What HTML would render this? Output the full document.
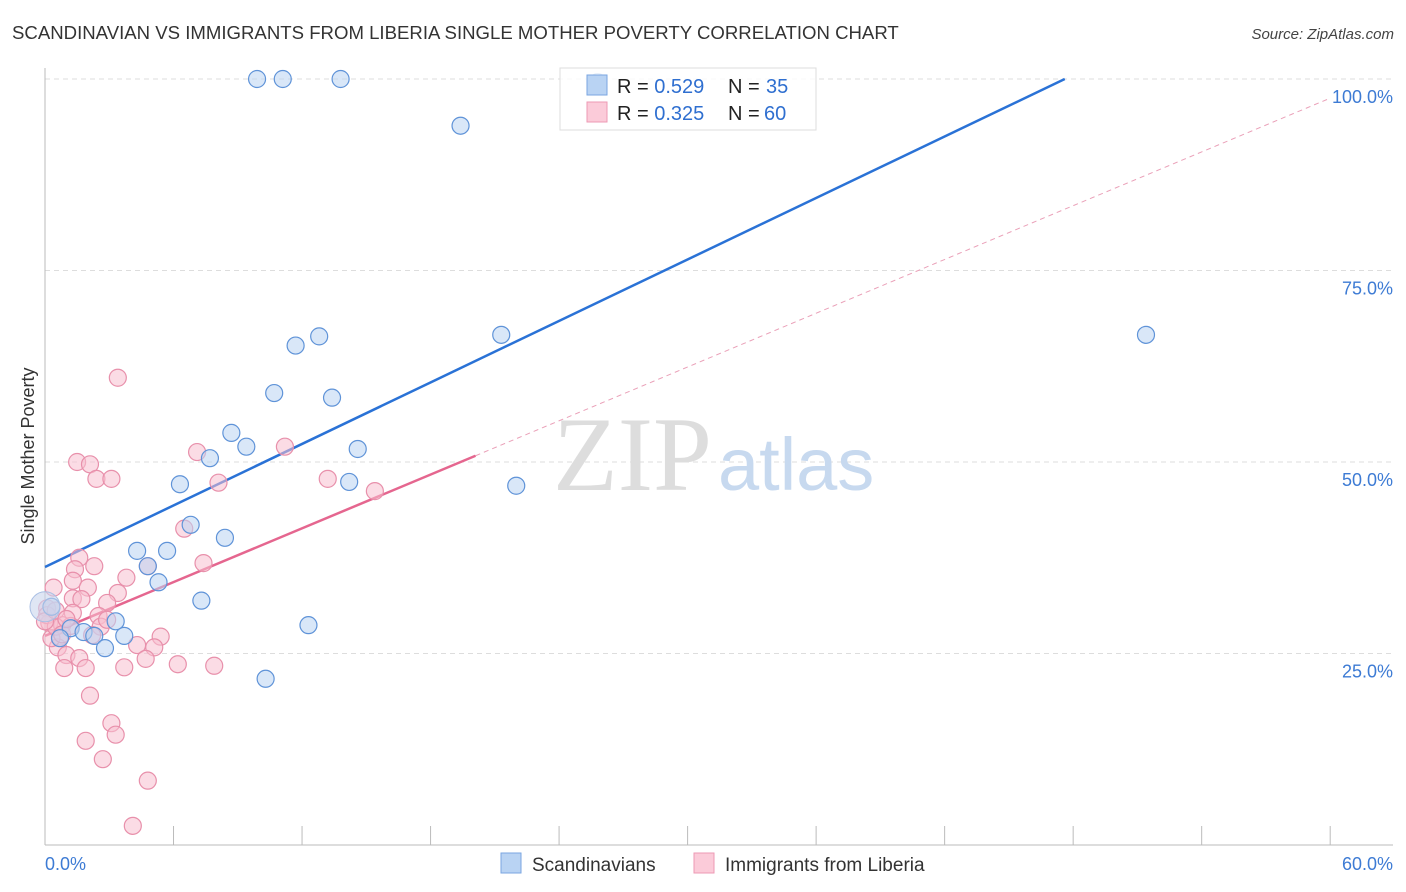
<!DOCTYPE html>
<html><head><meta charset="utf-8">
<style>
body{margin:0;background:#fff;font-family:"Liberation Sans",sans-serif;}
svg{display:block}
</style></head>
<body>
<svg id="chart" width="1406" height="892" xmlns="http://www.w3.org/2000/svg">
<text x="12" y="39" font-size="18.6" fill="#333">SCANDINAVIAN VS IMMIGRANTS FROM LIBERIA SINGLE MOTHER POVERTY CORRELATION CHART</text>
<text x="1394" y="39" font-size="15" fill="#444" font-style="italic" text-anchor="end">Source: ZipAtlas.com</text>
<g id="grid"></g>
<g>
<text x="553" y="490" font-size="106" font-family="Liberation Serif,serif" fill="#ddd">ZIP</text>
<text x="718" y="490" font-size="74" fill="#c7d9ef">atlas</text>
</g>
<g id="axes"></g>
<g id="lines"></g>
<g id="points"></g>
<text transform="translate(34,456) rotate(-90)" font-size="18" fill="#333" text-anchor="middle">Single Mother Poverty</text>
<g>
<rect x="560" y="68" width="256" height="62" fill="#fff" fill-opacity="0.85" stroke="#ddd"/>
<rect x="587" y="75" width="20" height="20" fill="#b9d3f3" stroke="#7aa6e0"/>
<rect x="587" y="102" width="20" height="20" fill="#fbcbd9" stroke="#ee9ab4"/>
<text x="617" y="93" font-size="20" fill="#222">R = <tspan fill="#2f6fd0">0.529</tspan></text>
<text x="728" y="93" font-size="20" fill="#222">N = <tspan fill="#2f6fd0" x="766">35</tspan></text>
<text x="617" y="120" font-size="20" fill="#222">R = <tspan fill="#2f6fd0">0.325</tspan></text>
<text x="728" y="120" font-size="20" fill="#222">N = <tspan fill="#2f6fd0" x="764">60</tspan></text>
</g>
<g>
<rect x="501" y="853" width="20" height="20" fill="#b9d3f3" stroke="#7aa6e0"/>
<text x="532" y="871" font-size="19" fill="#333">Scandinavians</text>
<rect x="694" y="853" width="20" height="20" fill="#fbcbd9" stroke="#ee9ab4"/>
<text x="725" y="871" font-size="19" fill="#333">Immigrants from Liberia</text>
</g>
</svg>
<script>
const yTicks=[25,50,75,100];
const yTickLabels=["25.0%","50.0%","75.0%","100.0%"];
const xTicks=[0,6,12,18,24,30,36,42,48,54,60];
const blueX=[9.9,11.1,13.8,25.8,19.4,11.7,12.8,21.3,51.4,10.7,13.4,8.7,9.4,14.6,7.7,6.3,14.2,22.0,6.8,8.4,4.3,5.7,4.8,5.3,7.3,3.3,1.2,1.8,3.7,2.3,2.8,10.3,12.3,0.3,0.7];
const blueY=[100,100,100,99.6,93.9,65.2,66.4,66.6,66.6,59.0,58.4,53.8,52.0,51.7,50.5,47.1,47.4,46.9,41.8,40.1,38.4,38.4,36.4,34.3,31.9,29.2,28.3,27.8,27.3,27.3,25.7,21.7,28.7,31.1,27.0];
const pinkX=[3.4,1.5,2.1,2.4,3.1,7.1,11.2,8.1,13.2,15.4,6.5,1.6,2.3,1.4,1.3,3.8,4.8,7.4,0.4,2.0,1.3,1.7,3.4,2.9,2.5,1.3,0.1,0.2,0.8,0.7,2.6,2.9,0.6,2.2,5.4,4.3,5.1,0.3,1.0,1.6,4.7,0.9,1.9,3.7,6.2,7.9,2.1,3.1,3.3,1.9,2.7,4.8,4.1,0.1,0.5,0.8,1.2,0.0,0.5,1.0];
const pinkY=[61.0,50.0,49.7,47.8,47.8,51.3,52.0,47.3,47.8,46.2,41.3,37.5,36.4,36.0,34.5,34.9,36.4,36.8,33.6,33.6,32.2,32.1,32.9,31.6,29.9,30.3,30.9,29.0,28.7,27.2,28.5,29.4,25.8,27.4,27.2,26.1,25.8,27.0,24.8,24.4,24.3,23.1,23.1,23.2,23.6,23.4,19.5,15.9,14.4,13.6,11.2,8.4,2.5,30.0,28.5,27.5,28.6,29.2,30.6,29.5];
const blueLine=[36.3,1.338]; // intercept, slope
const pinkLine=[27.3,1.17];
const pinkSolidEnd=20.1;

const NS="http://www.w3.org/2000/svg";
const X=v=>45+v*21.42, Y=v=>845-v*7.66;
function mk(t,a,p){const e=document.createElementNS(NS,t);for(const k in a)e.setAttribute(k,a[k]);p.appendChild(e);return e;}
const grid=document.getElementById('grid'),axes=document.getElementById('axes'),lines=document.getElementById('lines'),pts=document.getElementById('points');
yTicks.forEach((t,i)=>{
 const l=mk('line',{x1:45,x2:1393,y1:Y(t),y2:Y(t),stroke:'#ddd','stroke-dasharray':'5,4'},grid);
 
 
 const tx=mk('text',{x:1393,y:Y(t)+24,'font-size':18,fill:'#3d7bd4','text-anchor':'end'},axes);
 tx.textContent=yTickLabels[i];
 
 
});
const ax=mk('line',{x1:45,x2:45,y1:68,y2:845,stroke:'#bbb'},axes);


const bx=mk('line',{x1:45,x2:1393,y1:845,y2:845,stroke:'#bbb'},axes);


xTicks.forEach(t=>{const k=mk('line',{x1:X(t),x2:X(t),y1:826,y2:845,stroke:'#bbb'},axes);
 
 });
const x0=mk('text',{x:45,y:870,'font-size':18,fill:'#3d7bd4'},axes);x0.textContent='0.0%';


const x1=mk('text',{x:1393,y:870,'font-size':18,fill:'#3d7bd4','text-anchor':'end'},axes);x1.textContent='60.0%';



function drawPts(xs,ys,fill,stroke,name){xs.forEach((v,i)=>{
 const c=mk('circle',{cx:X(v),cy:Y(ys[i]),r:8.5,fill:fill,'fill-opacity':0.55,stroke:stroke,'stroke-width':1.2},pts);
 
 });}
drawPts(pinkX,pinkY,'#f8bfd0','#e890ab','point-liberia');
drawPts(blueX,blueY,'#b9d3f3','#5f93d8','point-scandinavian');
const big=mk('circle',{cx:X(0),cy:Y(31.1),r:15,fill:'#c9d5ec','fill-opacity':0.6,stroke:'#a9bfe4'},pts);



const bEnd=(100-blueLine[0])/blueLine[1];
const bl=mk('line',{x1:X(0),y1:Y(blueLine[0]),x2:X(bEnd),y2:Y(100),stroke:'#2a72d6','stroke-width':2.5},lines);


const pl=mk('line',{x1:X(0),y1:Y(pinkLine[0]),x2:X(pinkSolidEnd),y2:Y(pinkLine[0]+pinkLine[1]*pinkSolidEnd),stroke:'#e5668f','stroke-width':2.5},lines);


const pd=mk('line',{x1:X(pinkSolidEnd),y1:Y(pinkLine[0]+pinkLine[1]*pinkSolidEnd),x2:X(60),y2:Y(pinkLine[0]+pinkLine[1]*60),stroke:'#eaa0b8','stroke-width':1,'stroke-dasharray':'5,4'},lines);


</script>
</body></html>
